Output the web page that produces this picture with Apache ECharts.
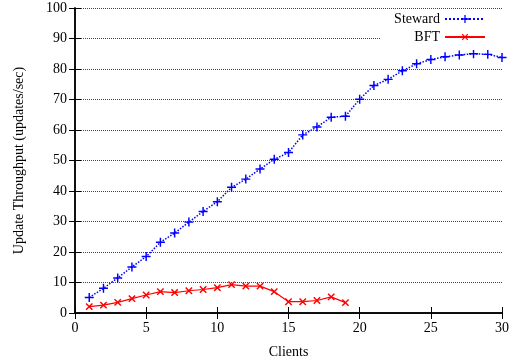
<!DOCTYPE html>
<html>
<head>
<meta charset="utf-8">
<script src="https://cdn.jsdelivr.net/npm/echarts@6/dist/echarts.min.js"></script>
<style>
  html, body { margin: 0; padding: 0; background: #fff; }
  #chart { width: 512px; height: 364px; }
</style>
</head>
<body>
<div id="chart"></div>
<script>
  // values
  var clients = [1, 2, 3, 4, 5, 6, 7, 8, 9, 10, 11, 12, 13, 14, 15, 16, 17, 18, 19, 20,
                 21, 22, 23, 24, 25, 26, 27, 28, 29, 30];
  var steward = [5.1, 8.1, 11.5, 15.1, 18.5, 23.2, 26.2, 29.8, 33.3, 36.5, 41.2, 43.9, 47.2, 50.4, 52.6,
                 58.4, 61.0, 64.2, 64.5, 70.1, 74.6, 76.6, 79.4, 81.7, 83.1, 84.0, 84.6, 85.0, 84.8, 83.8];
  var bft = [2.1, 2.6, 3.5, 4.7, 5.9, 7.0, 6.7, 7.3, 7.7, 8.3, 9.3, 8.8, 8.8, 7.0, 3.7, 3.7, 4.1, 5.3, 3.4];
  var xTicks = [0, 5, 10, 15, 20, 25, 30];
  var yTicks = [0, 10, 20, 30, 40, 50, 60, 70, 80, 90, 100];

  function pairs(xs, ys) {
    return ys.map(function (v, i) { return [xs[i], v]; });
  }

  var plusPath = 'path://M0,4.2L10,4.2L10,5.8L0,5.8Z M4.2,0L5.8,0L5.8,10L4.2,10Z';
  var font = 'Liberation Serif';
  var tickLine = { show: true, inside: true, length: 6, lineStyle: { color: '#000', width: 1 } };

  var chart = echarts.init(document.getElementById('chart'));
  chart.setOption({
    animation: false,
    textStyle: { fontFamily: font },
    grid: { left: 75, right: 9, top: 8, bottom: 48, containLabel: false },
    legend: {
      orient: 'vertical',
      right: 9,
      top: 9,
      align: 'right',
      itemWidth: 40,
      itemHeight: 10,
      itemGap: 4,
      padding: [3, 17, 6, 14],
      backgroundColor: '#fff',
      textStyle: { fontFamily: font, fontSize: 14, color: '#000' },
      data: ['Steward', 'BFT']
    },
    xAxis: [
      {
        type: 'value', min: 0, max: 30, interval: 5,
        name: 'Clients', nameLocation: 'middle', nameGap: 32,
        nameTextStyle: { fontFamily: font, fontSize: 14, color: '#000' },
        axisLine: { lineStyle: { color: '#000', width: 1.5 } },
        axisTick: tickLine,
        axisLabel: { fontFamily: font, fontSize: 14, color: '#000', margin: 8,
          formatter: function (v) { return xTicks.indexOf(v) >= 0 ? String(v) : ''; } },
        splitLine: { show: false }
      },
      {
        type: 'value', min: 0, max: 30, interval: 5, position: 'top',
        axisLine: { lineStyle: { color: '#000', width: 1.5 } },
        axisTick: tickLine, axisLabel: { show: false }, splitLine: { show: false }
      }
    ],
    yAxis: [
      {
        type: 'value', min: 0, max: 100, interval: 10,
        name: 'Update Throughput (updates/sec)', nameLocation: 'middle', nameGap: 49,
        nameTextStyle: { fontFamily: font, fontSize: 14, color: '#000' },
        axisLine: { show: true, lineStyle: { color: '#000', width: 1.5 } },
        axisTick: tickLine,
        axisLabel: { fontFamily: font, fontSize: 14, color: '#000', margin: 8,
          formatter: function (v) { return yTicks.indexOf(v) >= 0 ? String(v) : ''; } },
        splitLine: { show: true, lineStyle: { color: '#444', type: 'dotted', width: 1 } }
      },
      {
        type: 'value', min: 0, max: 100, interval: 10, position: 'right',
        axisLine: { show: true, lineStyle: { color: '#000', width: 1.5 } },
        axisTick: tickLine, axisLabel: { show: false }, splitLine: { show: false }
      }
    ],
    series: [
      {
        name: 'Steward', type: 'line', z: 3,
        data: pairs(clients, steward),
        symbol: plusPath, symbolSize: 9, showAllSymbol: true,
        lineStyle: { color: '#0000ff', type: 'dotted', width: 1.5 },
        itemStyle: { color: '#0000ff' }
      },
      {
        name: 'BFT', type: 'line', z: 3,
        data: pairs(clients, bft),
        symbol: plusPath, symbolSize: 9, symbolRotate: 45, showAllSymbol: true,
        lineStyle: { color: '#ff0000', type: 'solid', width: 1.2 },
        itemStyle: { color: '#ff0000' }
      }
    ]
  });
</script>
</body>
</html>
